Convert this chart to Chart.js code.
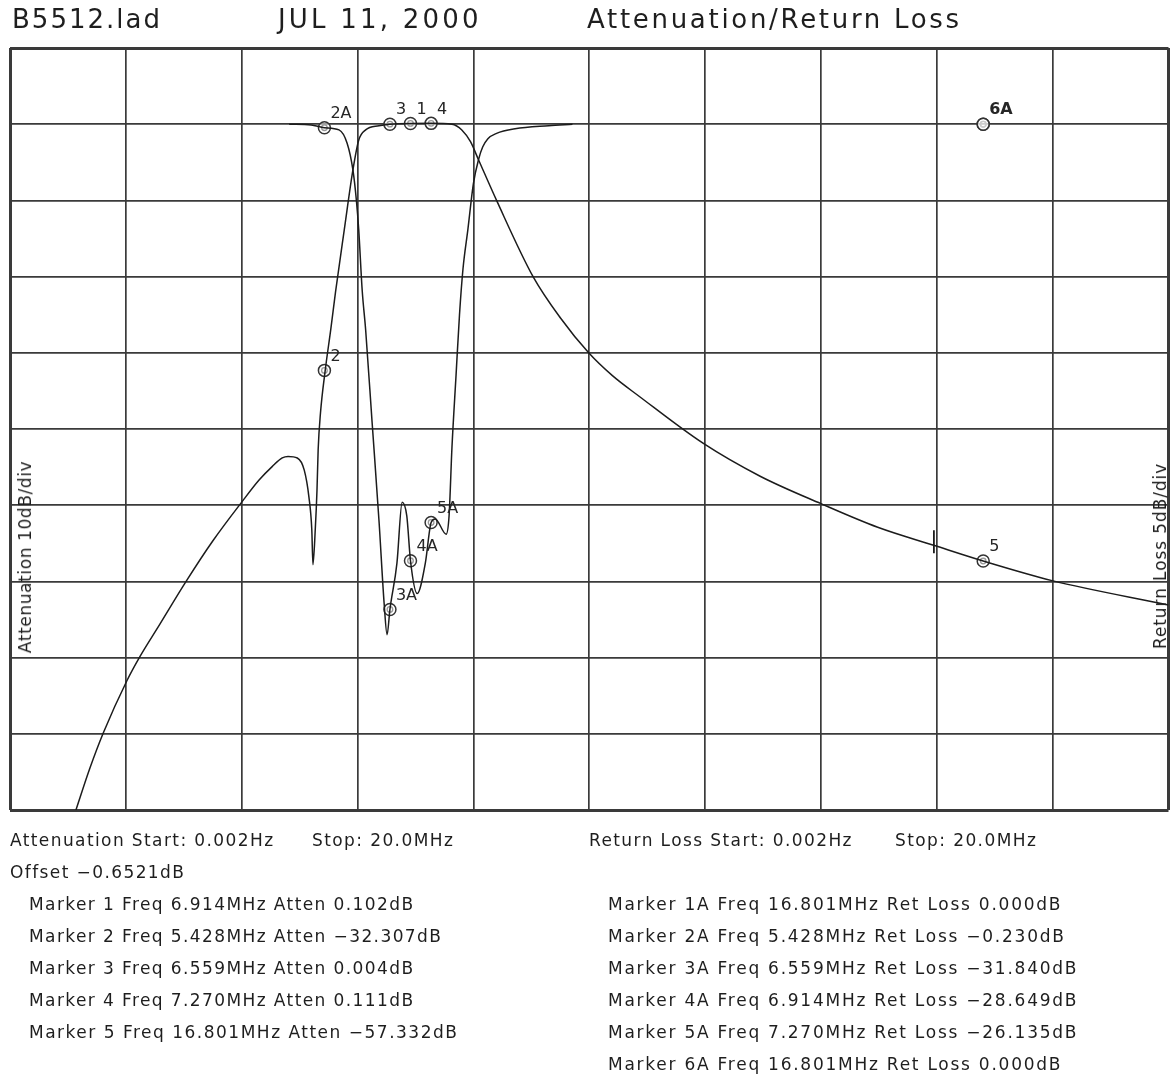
<!DOCTYPE html>
<html>
<head>
<meta charset="utf-8">
<script src="https://cdn.jsdelivr.net/npm/chart.js@4/dist/chart.umd.min.js"></script>
<style>
html,body{margin:0;padding:0;background:#fff;}
#wrap{position:relative;width:1176px;height:1074px;overflow:hidden;background:#fff;}
canvas{position:absolute;left:0;top:0;}
.t{position:absolute;white-space:nowrap;font-family:"DejaVu Sans",sans-serif;color:#1e1e1e;}
.h{font-size:26px;line-height:30px;letter-spacing:2.7px;top:4px;}
.f{font-size:17px;line-height:32px;letter-spacing:1.4px;}
.r{letter-spacing:1.75px;}
.v{font-size:17px;line-height:20px;letter-spacing:0.6px;transform:translate(-50%,-50%) rotate(-90deg);}
</style>
</head>
<body>
<div id="wrap">
<canvas id="c" width="1176" height="1074"></canvas>

<div class="t h" style="left:12px;letter-spacing:2.0px">B5512.lad</div>
<div class="t h" style="left:278px;letter-spacing:3.2px">JUL 11, 2000</div>
<div class="t h" style="left:587px">Attenuation/Return Loss</div>

<div class="t v" style="left:25px;top:557px">Attenuation 10dB/div</div>
<div class="t v" style="left:1160px;top:556px;letter-spacing:0.9px">Return Loss 5dB/div</div>

<div class="t f" style="left:10px;top:824px">Attenuation Start: 0.002Hz</div>
<div class="t f" style="left:312px;top:824px">Stop: 20.0MHz</div>
<div class="t f" style="left:10px;top:856px">Offset −0.6521dB</div>
<div class="t f" style="left:29px;top:888px">Marker 1 Freq 6.914MHz Atten 0.102dB</div>
<div class="t f" style="left:29px;top:920px">Marker 2 Freq 5.428MHz Atten −32.307dB</div>
<div class="t f" style="left:29px;top:952px">Marker 3 Freq 6.559MHz Atten 0.004dB</div>
<div class="t f" style="left:29px;top:984px">Marker 4 Freq 7.270MHz Atten 0.111dB</div>
<div class="t f" style="left:29px;top:1016px;letter-spacing:1.5px">Marker 5 Freq 16.801MHz Atten −57.332dB</div>

<div class="t f" style="left:589px;top:824px">Return Loss Start: 0.002Hz</div>
<div class="t f" style="left:895px;top:824px">Stop: 20.0MHz</div>
<div class="t f r" style="left:608px;top:888px">Marker 1A Freq 16.801MHz Ret Loss 0.000dB</div>
<div class="t f r" style="left:608px;top:920px">Marker 2A Freq 5.428MHz Ret Loss −0.230dB</div>
<div class="t f r" style="left:608px;top:952px">Marker 3A Freq 6.559MHz Ret Loss −31.840dB</div>
<div class="t f r" style="left:608px;top:984px">Marker 4A Freq 6.914MHz Ret Loss −28.649dB</div>
<div class="t f r" style="left:608px;top:1016px">Marker 5A Freq 7.270MHz Ret Loss −26.135dB</div>
<div class="t f r" style="left:608px;top:1048px">Marker 6A Freq 16.801MHz Ret Loss 0.000dB</div>
</div>

<script>
// ---- data (MHz, dB) ----
const attenFreq = [1.13, 1.38, 1.61, 2.02, 2.24, 2.58, 3.04, 3.50, 4.01, 4.30, 4.53, 4.70, 4.80, 4.96, 5.08, 5.16, 5.21, 5.23, 5.27, 5.30, 5.32, 5.36, 5.44, 5.54, 5.62, 5.77, 5.92, 6.02, 6.14, 6.37, 6.559, 6.914, 7.27, 7.63, 7.80, 7.95, 8.09, 8.40, 9.03, 9.50, 9.99, 10.40, 10.86, 11.97, 12.95, 14.0, 14.98, 15.96, 16.801, 17.99, 20.0];
const attenDb = [-90.2, -84.5, -79.9, -73.0, -69.9, -65.7, -60.0, -54.7, -49.5, -46.7, -44.9, -43.8, -43.6, -43.8, -45.4, -48.9, -53.2, -57.8, -53.2, -48.0, -42.7, -37.9, -32.4, -26.8, -22.0, -13.9, -6.0, -2.1, -0.75, -0.2, 0.004, 0.102, 0.111, 0.0, -0.75, -2.3, -4.7, -10.0, -20.0, -25.4, -30.0, -33.0, -35.7, -41.9, -46.2, -49.8, -52.9, -55.3, -57.332, -59.9, -63.1];

const retFreq = [4.82, 5.20, 5.428, 5.68, 5.82, 5.92, 5.98, 6.02, 6.08, 6.14, 6.25, 6.37, 6.46, 6.51, 6.559, 6.68, 6.77, 6.85, 6.914, 7.03, 7.17, 7.27, 7.34, 7.53, 7.58, 7.63, 7.70, 7.76, 7.82, 7.905, 8.00, 8.09, 8.16, 8.25, 8.40, 8.72, 9.30, 9.71];
const retDb = [0, -0.05, -0.23, -0.37, -1.25, -3.0, -5.0, -6.9, -10.9, -13.5, -19.5, -26.0, -31.5, -33.5, -31.84, -28.8, -24.8, -25.7, -28.649, -30.8, -28.8, -26.135, -25.9, -26.9, -25.7, -21.2, -16.5, -12.5, -9.5, -6.9, -3.9, -2.3, -1.5, -0.95, -0.6, -0.3, -0.1, 0];

const attMarkerNames = ['1', '2', '3', '4', '5'];
const attMarkerFreq = [6.914, 5.428, 6.559, 7.270, 16.801];
const attMarkerDb = [0.102, -32.307, 0.004, 0.111, -57.332];

const retMarkerNames = ['1A', '2A', '3A', '4A', '5A', '6A'];
const retMarkerFreq = [16.801, 5.428, 6.559, 6.914, 7.270, 16.801];
const retMarkerDb = [0.000, -0.230, -31.840, -28.649, -26.135, 0.000];

const cursorFreq = [15.95, 15.95];
const cursorDb = [-53.3, -56.3];

const xRange = [0, 20];      // MHz, 2 MHz/div
const attenRange = [-90, 10]; // 10 dB/div
const retRange = [-45, 5];    // 5 dB/div

// ---- styles ----
const INK = '#1c1c1c';
const GRID = '#3a3a3a';
const HIDDEN_LABELS = new Set(['1A']);
const BOLD_LABELS = new Set(['6A']);
const LABEL_DX = 6, LABEL_DY = -14;

const pts = (xs, ys) => xs.map((v, i) => ({x: v, y: ys[i]}));

const markerLabels = {
  id: 'markerLabels',
  afterDatasetsDraw(chart) {
    const {ctx, scales} = chart;
    ctx.save();
    ctx.fillStyle = '#262626';
    ctx.textBaseline = 'middle';
    ctx.textAlign = 'left';
    const put = (n, px, py) => {
      ctx.font = (BOLD_LABELS.has(n) ? 'bold ' : '') + '16px "DejaVu Sans", sans-serif';
      ctx.fillText(n, px + LABEL_DX, py + LABEL_DY);
    };
    attMarkerNames.forEach((n, i) => {
      put(n, scales.x.getPixelForValue(attMarkerFreq[i]), scales.y.getPixelForValue(attMarkerDb[i]));
    });
    retMarkerNames.forEach((n, i) => {
      if (HIDDEN_LABELS.has(n)) return;
      put(n, scales.x.getPixelForValue(retMarkerFreq[i]), scales.y2.getPixelForValue(retMarkerDb[i]));
    });
    ctx.restore();
  }
};

const curveStyle = {showLine: true, pointRadius: 0, borderColor: INK, borderWidth: 1.5,
  cubicInterpolationMode: 'monotone', fill: false};
const ringStyle = {showLine: false, pointStyle: 'circle', pointRadius: 6, borderWidth: 1.5,
  pointBorderColor: '#333', pointBackgroundColor: 'rgba(255,255,255,0.5)'};
const dotStyle = {showLine: false, pointStyle: 'circle', pointRadius: 2.8, borderWidth: 1.3,
  pointBorderColor: '#333', pointBackgroundColor: 'rgba(255,255,255,0)'};

const edgeWidth = (lo, hi) => (c) => (c.tick && (c.tick.value === lo || c.tick.value === hi)) ? 3 : 1.7;

new Chart(document.getElementById('c'), {
  type: 'scatter',
  data: {
    datasets: [
      Object.assign({label: 'Attenuation', data: pts(attenFreq, attenDb), yAxisID: 'y'}, curveStyle),
      Object.assign({label: 'Return Loss', data: pts(retFreq, retDb), yAxisID: 'y2'}, curveStyle),
      Object.assign({label: 'Cursor', data: pts(cursorFreq, cursorDb), yAxisID: 'y'}, curveStyle, {borderWidth: 1.8, cubicInterpolationMode: 'default'}),
      Object.assign({label: 'Atten markers', data: pts(attMarkerFreq, attMarkerDb), yAxisID: 'y'}, ringStyle),
      Object.assign({label: 'Atten markers dot', data: pts(attMarkerFreq, attMarkerDb), yAxisID: 'y'}, dotStyle),
      Object.assign({label: 'RL markers', data: pts(retMarkerFreq, retMarkerDb), yAxisID: 'y2'}, ringStyle),
      Object.assign({label: 'RL markers dot', data: pts(retMarkerFreq, retMarkerDb), yAxisID: 'y2'}, dotStyle)
    ]
  },
  options: {
    responsive: false,
    animation: false,
    devicePixelRatio: 1,
    layout: {padding: {left: 10, top: 48, right: 4, bottom: 264}},
    plugins: {legend: {display: false}, tooltip: {enabled: false}, title: {display: false}},
    scales: {
      x: {
        type: 'linear', min: xRange[0], max: xRange[1],
        ticks: {display: false, stepSize: 2},
        grid: {color: GRID, lineWidth: edgeWidth(xRange[0], xRange[1]), drawTicks: false},
        border: {display: false},
        afterFit: (s) => { s.height = 0; }
      },
      y: {
        type: 'linear', position: 'left', min: attenRange[0], max: attenRange[1],
        ticks: {display: false, stepSize: 10},
        grid: {color: GRID, lineWidth: edgeWidth(attenRange[0], attenRange[1]), drawTicks: false},
        border: {display: false},
        afterFit: (s) => { s.width = 0; }
      },
      y2: {
        type: 'linear', position: 'right', min: retRange[0], max: retRange[1],
        ticks: {display: false, stepSize: 5},
        grid: {display: false, drawTicks: false},
        border: {display: false},
        afterFit: (s) => { s.width = 0; }
      }
    }
  },
  plugins: [markerLabels]
});
</script>
</body>
</html>
